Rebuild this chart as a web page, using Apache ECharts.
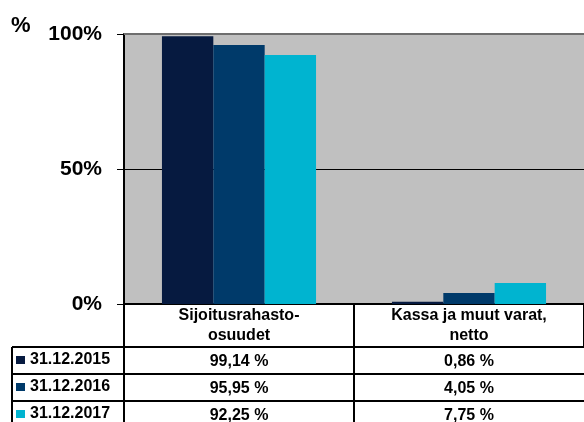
<!DOCTYPE html>
<html><head><meta charset="utf-8">
<script src="https://cdn.jsdelivr.net/npm/echarts@6/dist/echarts.min.js"></script>
<style>html,body{margin:0;padding:0;background:#fff}#c{width:584px;height:422px}</style>
</head><body><div id="c"></div>
<script>
const categories = ['Sijoitusrahasto-\nosuudet', 'Kassa ja muut varat,\nnetto'];
const seriesNames = ['31.12.2015', '31.12.2016', '31.12.2017'];
const s2015 = [99.14, 0.86];
const s2016 = [95.95, 4.05];
const s2017 = [92.25, 7.75];
const yTicks = [0, 50, 100];
const colors = ['#061A40', '#003A6A', '#00B4D0'];
const allValues = [s2015, s2016, s2017];
const FONT = 'Arial, "Liberation Sans", sans-serif';

const chart = echarts.init(document.getElementById('c'));
const option = {
  animation: false,
  backgroundColor: '#fff',
  grid: { left: 124, top: 34, width: 464, bottom: 118, show: true, backgroundColor: '#C0C0C0', borderWidth: 0 },
  legend: {
    orient: 'vertical', left: 16, top: 352, padding: 0, itemGap: 11,
    itemWidth: 9, itemHeight: 8, icon: 'rect',
    textStyle: { fontFamily: FONT, fontWeight: 'bold', fontSize: 16, lineHeight: 16, color: '#000', padding: [0,0,0,0] },
    data: seriesNames
  },
  xAxis: {
    type: 'category', data: categories, boundaryGap: true,
    axisLine: { lineStyle: { color: '#000', width: 2 } },
    axisTick: { show: true, length: 43, interval: 0, lineStyle: { color: '#000', width: 2 } },
    axisLabel: { interval: 0, margin: 2, lineHeight: 20, fontFamily: FONT, fontWeight: 'bold', fontSize: 16, color: '#000' }
  },
  yAxis: {
    type: 'value', min: yTicks[0], max: yTicks[yTicks.length-1], interval: 50,
    axisLine: { show: true, lineStyle: { color: '#000', width: 2 } },
    axisTick: { show: true, length: 7, lineStyle: { color: '#000', width: 1 } },
    axisLabel: { margin: 22, formatter: '{value}%', fontFamily: FONT, fontWeight: 'bold', fontSize: 21, color: '#000' },
    splitLine: { show: true, lineStyle: { color: ['#000', '#000', '#6e6e6e'], width: 1 } }
  },
  series: seriesNames.map((n, i) => ({
    name: n, type: 'bar', data: allValues[i], barGap: '0%', barCategoryGap: '33%',
    itemStyle: { color: colors[i] },
    markLine: i === 0 ? { silent: true, symbol: 'none', label: { show: false },
      lineStyle: { color: '#6e6e6e', width: 2, type: 'solid' }, data: [{ yAxis: yTicks[yTicks.length-1] }] } : undefined
  }))
};
chart.setOption(option);

// table built from the data arrays
const y0 = chart.convertToPixel({ yAxisIndex: 0 }, 0);
const rowTop = y0 + 43;
const rowH = 27;
const tableLeft = 12, legendRight = 124;
const elems = [];
const L = (x1, y1, x2, y2) => elems.push({ type: 'line', shape: { x1, y1, x2, y2 }, style: { stroke: '#000', lineWidth: 2 }, z: 100 });
for (let r = 0; r < 3; r++) L(tableLeft, rowTop + r * rowH, 584, rowTop + r * rowH);
const colX = categories.map((c, i) => chart.convertToPixel({ xAxisIndex: 0 }, i));
const catW = colX[1] - colX[0];
L(tableLeft, rowTop, tableLeft, 422);
L(legendRight, rowTop, legendRight, 422);
L(colX[0] + catW / 2, rowTop, colX[0] + catW / 2, 422);
allValues.forEach((vals, r) => {
  vals.forEach((v, c) => {
    elems.push({
      type: 'text', x: colX[c], y: rowTop + r * rowH + rowH / 2 + 1, z: 100,
      style: { text: v.toFixed(2).replace('.', ',') + ' %', fontFamily: FONT, fontWeight: 'bold', fontSize: 16, fill: '#000', align: 'center', verticalAlign: 'middle' }
    });
  });
});
elems.push({ type: 'text', x: 11, y: 26, style: { text: '%', fontFamily: FONT, fontWeight: 'bold', fontSize: 22, fill: '#000', align: 'left', verticalAlign: 'middle' } });
chart.setOption({ graphic: elems });
</script></body></html>
